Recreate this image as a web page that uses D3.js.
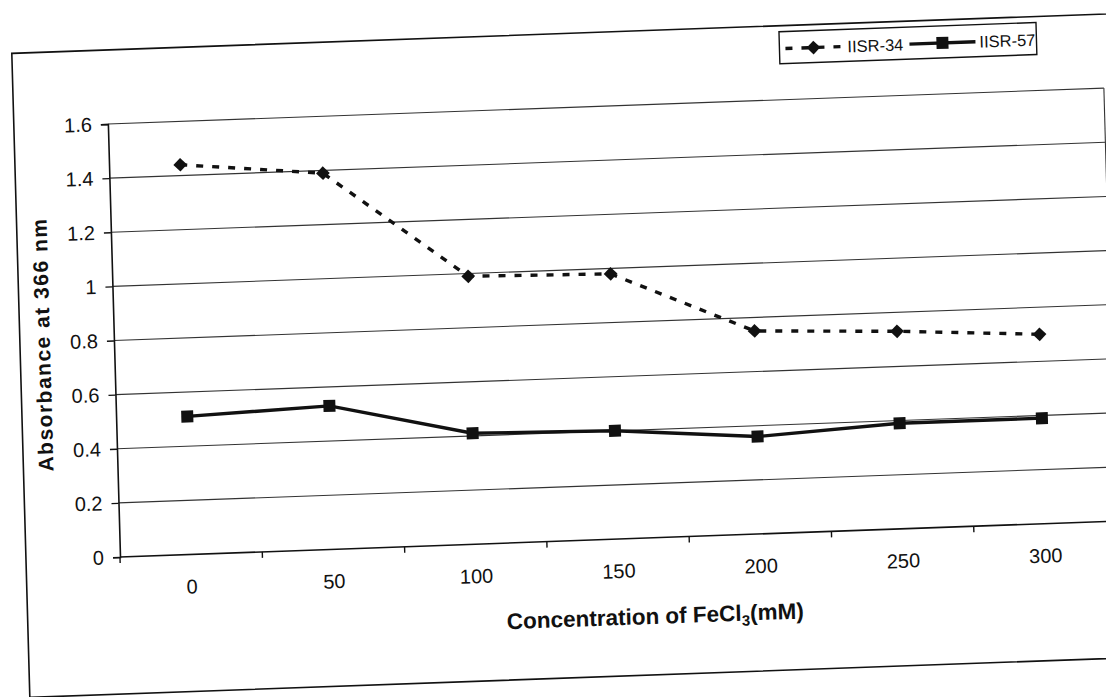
<!DOCTYPE html>
<html>
<head>
<meta charset="utf-8">
<script src="https://cdn.jsdelivr.net/npm/d3@7"></script>
<style>
  html, body { margin: 0; padding: 0; background: #fff; }
  svg { display: block; }
  text { font-family: "Liberation Sans", Arial, sans-serif; fill: #111; }
</style>
</head>
<body>
<svg id="chart" width="1106" height="697"></svg>
<script>
// ---- data ----
const categories = ["0", "50", "100", "150", "200", "250", "300"];
const iisr34 = [1.44, 1.39, 0.99, 0.98, 0.75, 0.73, 0.70];
const iisr57 = [0.51, 0.53, 0.41, 0.40, 0.36, 0.39, 0.39];
const yTickValues = [0, 0.2, 0.4, 0.6, 0.8, 1, 1.2, 1.4, 1.6];
const yTickLabels = ["0", "0.2", "0.4", "0.6", "0.8", "1", "1.2", "1.4", "1.6"];
const seriesNames = ["IISR-34", "IISR-57"];
const xTitle = "Concentration of FeCl";
const yTitle = "Absorbance at 366 nm";

// ---- layout (unrotated frame, origin at plot bottom-left) ----
const plotW = 996, plotH = 433;
const svg = d3.select("#chart");
// the scanned chart is slightly tilted/skewed
const g = svg.append("g").attr("transform", "matrix(1,-0.036,0.028,1,120,557)");

const x = d3.scaleBand().domain(categories).range([0, plotW]);
const y = d3.scaleLinear().domain([0, 1.6]).range([0, -plotH]);

// outer frame
g.append("rect")
  .attr("x", -94).attr("y", -507).attr("width", 1220).attr("height", 644)
  .attr("fill", "none").attr("stroke", "#111").attr("stroke-width", 1.6);

// gridlines
g.append("g").selectAll("line")
  .data(yTickValues.filter(v => v > 0))
  .join("line")
  .attr("x1", 0).attr("x2", plotW)
  .attr("y1", d => y(d)).attr("y2", d => y(d))
  .attr("stroke", "#333").attr("stroke-width", 1.1);

// plot right edge
g.append("line")
  .attr("x1", plotW).attr("x2", plotW).attr("y1", 0).attr("y2", -plotH)
  .attr("stroke", "#333").attr("stroke-width", 1.1);

// y axis
const yAxis = d3.axisLeft(y)
  .tickValues(yTickValues)
  .tickFormat((d, i) => yTickLabels[i])
  .tickSize(7).tickPadding(9);
const ya = g.append("g").call(yAxis);
ya.select(".domain").attr("stroke", "#111").attr("stroke-width", 1.6);
ya.selectAll(".tick line").attr("stroke", "#111").attr("stroke-width", 1.4);
ya.selectAll(".tick text").style("font-size", "20px").attr("fill", "#111");

// x axis line
g.append("line").attr("x1", 0).attr("x2", plotW).attr("y1", 0).attr("y2", 0)
  .attr("stroke", "#111").attr("stroke-width", 1.6);
// x ticks at category boundaries
const bounds = categories.map(c => x(c)).concat([x(categories[categories.length - 1]) + x.bandwidth()]);
g.append("g").selectAll("line").data(bounds).join("line")
  .attr("x1", d => d).attr("x2", d => d).attr("y1", 0).attr("y2", 6)
  .attr("stroke", "#111").attr("stroke-width", 1.4);
// x tick labels
g.append("g").selectAll("text").data(categories).join("text")
  .attr("x", d => x(d) + x.bandwidth() / 2)
  .attr("y", 39)
  .attr("text-anchor", "middle")
  .style("font-size", "20px")
  .text(d => d);

// titles
const xt = g.append("text")
  .attr("x", 533).attr("y", 86)
  .attr("text-anchor", "middle")
  .style("font-size", "22.5px").style("font-weight", "bold");
xt.append("tspan").text(xTitle);
xt.append("tspan").attr("dy", 5).style("font-size", "15px").text("3");
xt.append("tspan").attr("dy", -5).text("(mM)");

g.append("text")
  .attr("transform", "translate(-64,-215) rotate(-90)")
  .attr("text-anchor", "middle")
  .style("font-size", "21px").style("font-weight", "bold")
  .style("letter-spacing", "1.5px")
  .text(yTitle);

// series
const cx = d => x(d) + x.bandwidth() / 2;
const line = d3.line().x(d => cx(d.c)).y(d => y(d.v));
const s34 = categories.map((c, i) => ({ c, v: iisr34[i] }));
const s57 = categories.map((c, i) => ({ c, v: iisr57[i] }));

g.append("path").datum(s34).attr("d", line)
  .attr("fill", "none").attr("stroke", "#111").attr("stroke-width", 3.4)
  .attr("stroke-dasharray", "7,9");
g.append("path").datum(s57).attr("d", line)
  .attr("fill", "none").attr("stroke", "#111").attr("stroke-width", 3.4);

const diamond = d3.symbol().type(d3.symbolDiamond2).size(120);
g.append("g").selectAll("path").data(s34).join("path")
  .attr("d", diamond)
  .attr("transform", d => `translate(${cx(d.c)},${y(d.v)})`)
  .attr("fill", "#111");
g.append("g").selectAll("rect").data(s57).join("rect")
  .attr("x", d => cx(d.c) - 6).attr("y", d => y(d.v) - 6)
  .attr("width", 12).attr("height", 12)
  .attr("fill", "#111");

// legend
const lg = g.append("g").attr("transform", "translate(673,-501)");
lg.append("rect").attr("width", 257).attr("height", 32)
  .attr("fill", "#fff").attr("stroke", "#111").attr("stroke-width", 1.4);
lg.append("line").attr("x1", 6).attr("x2", 64).attr("y1", 17).attr("y2", 17)
  .attr("stroke", "#111").attr("stroke-width", 3.4).attr("stroke-dasharray", "7,9");
lg.append("path").attr("d", diamond).attr("transform", "translate(34,17)").attr("fill", "#111");
lg.append("text").attr("x", 68).attr("y", 23).style("font-size", "16.5px").text(seriesNames[0]);
lg.append("line").attr("x1", 130).attr("x2", 196).attr("y1", 17).attr("y2", 17)
  .attr("stroke", "#111").attr("stroke-width", 3.4);
lg.append("rect").attr("x", 157).attr("y", 11).attr("width", 12).attr("height", 12).attr("fill", "#111");
lg.append("text").attr("x", 200).attr("y", 23).style("font-size", "16.5px").text(seriesNames[1]);
</script>
</body>
</html>
